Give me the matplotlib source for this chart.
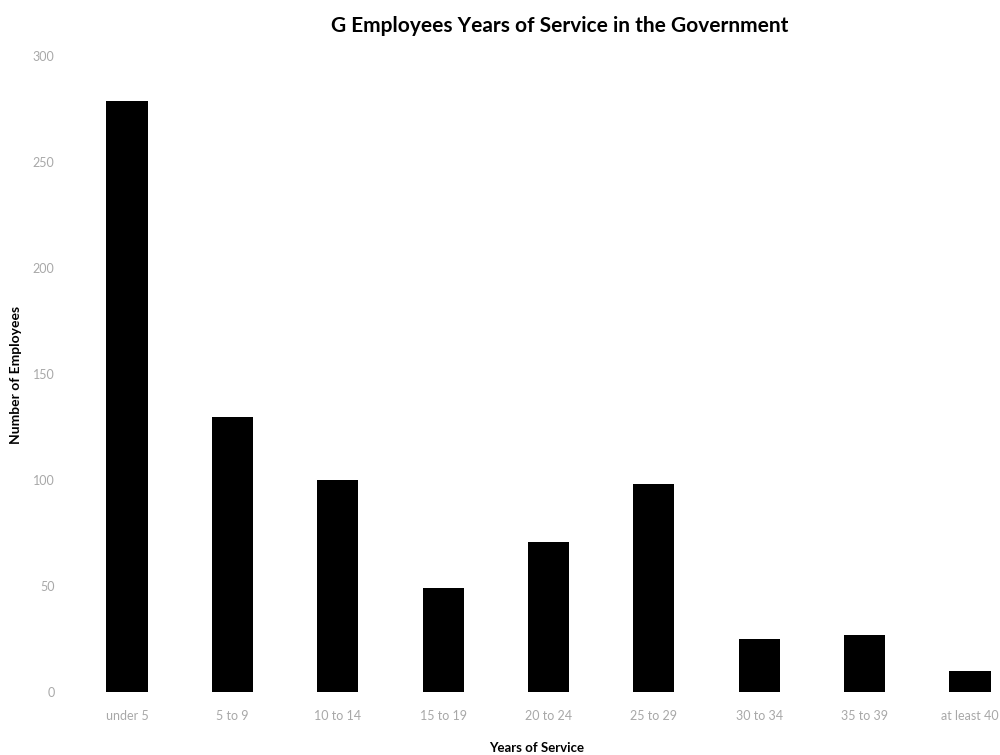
import matplotlib
matplotlib.use("Agg")
import matplotlib.pyplot as plt

categories = ["under 5", "5 to 9", "10 to 14", "15 to 19", "20 to 24",
              "25 to 29", "30 to 34", "35 to 39", "at least 40"]
employees = [279, 130, 100, 49, 71, 98, 25, 27, 10]
y_ticks = [0, 50, 100, 150, 200, 250, 300]

plt.rcParams["font.family"] = ["Lato", "DejaVu Sans"]

fig = plt.figure(figsize=(10, 7.55), dpi=100)
ax = fig.add_axes([0.074, 0.0834, 0.926, 0.842])

x = list(range(len(categories)))
ax.bar(x, employees, width=0.39, color="black")

ax.set_xlim(-0.503, 8.285)
ax.set_ylim(0, 300)
ax.set_xticks(x)
ax.set_xticklabels(categories)
ax.set_yticks(y_ticks)
ax.tick_params(axis="both", length=0, labelsize=9, labelcolor="#a8a8a8")
ax.tick_params(axis="x", pad=13)
ax.tick_params(axis="y", pad=14)
for spine in ax.spines.values():
    spine.set_visible(False)

fig.text(0.56, 0.965, "G Employees Years of Service in the Government",
         ha="center", va="center", fontsize=15, fontweight="bold")
fig.text(0.016, 0.503, "Number of Employees", rotation=90,
         ha="center", va="center", fontsize=10, fontweight="bold")
ax.set_xlabel("Years of Service", fontsize=9.5, fontweight="bold", labelpad=14)

fig.savefig("out.png", dpi=100)
